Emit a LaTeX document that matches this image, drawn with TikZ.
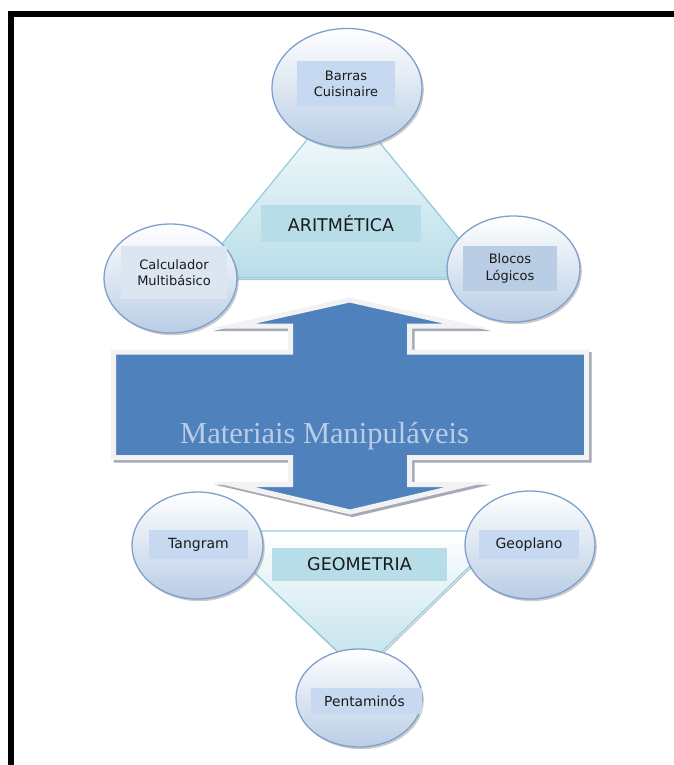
\documentclass[tikz,border=0pt]{standalone}
\usepackage{fontspec}
\newfontfamily\labelfont{DejaVu Sans}
\newfontfamily\titlefont{Liberation Serif}
\usetikzlibrary{shapes.geometric}
\definecolor{mainblue}{HTML}{4F81BD}
\definecolor{rimgray}{HTML}{F2F2F2}
\definecolor{shadowgray}{HTML}{A3AAB6}
\definecolor{bubbleedge}{HTML}{7FA0CC}
\definecolor{bubblebottom}{HTML}{B9CDE5}
\definecolor{tealedge}{HTML}{93CDDD}
\definecolor{tealfill}{HTML}{B7DDE8}
\definecolor{tagfill}{HTML}{C6D9F1}
\definecolor{tagpale}{HTML}{DCE6F2}
\definecolor{tagdeep}{HTML}{B9CDE5}
\definecolor{titleblue}{HTML}{B9CDE5}
\definecolor{inkdark}{HTML}{1A1A1A}
\begin{document}
\begin{tikzpicture}[x=1pt,y=-1pt,
  bubble/.style={ellipse, inner sep=0pt, draw=bubbleedge, line width=1.3pt,
    top color=white, bottom color=bubblebottom,
    preaction={fill=black!45, opacity=.45, transform canvas={xshift=1.8pt,yshift=-2.2pt}}},
  tag/.style={rectangle, inner sep=0pt, fill=tagfill, align=center,
    text=inkdark, font=\labelfont\fontsize{13}{16.5}\selectfont},
  topic/.style={rectangle, inner sep=0pt, fill=tealfill, text=inkdark,
    font=\labelfont\fontsize{17.5}{20}\selectfont},
  wedge/.style={draw=tealedge, line width=1.2pt, line join=miter,
    preaction={draw=shadowgray!70, line width=1.2pt, transform canvas={xshift=1.2pt,yshift=-1.5pt}}},
]
\useasboundingbox (0,0) rectangle (674,765);

% page frame (top and left edges)
\draw[line width=6pt, line join=miter] (11,770) -- (11,14) -- (680,14);

% triangle behind the arithmetic group
\coordinate (a1) at (342,97);
\coordinate (a2) at (194,278);
\coordinate (a3) at (491,278);
\draw[wedge, top color=white, bottom color=tealfill] (a1) -- (a2) -- (a3) -- cycle;

% inverted triangle behind the geometry group
\coordinate (g1) at (211,531);
\coordinate (g2) at (506,531);
\coordinate (g3) at (360,673);
\draw[wedge, top color=white, bottom color=tealfill!90] (g1) -- (g2) -- (g3) -- cycle;

% double-headed arrow with light rim and drop shadow
\def\arrowpath{(349.5,300) -- (466,326) -- (409.5,326) -- (409.5,352) -- (586.5,352)
  -- (586.5,457.5) -- (409.5,457.5) -- (409.5,484.5) -- (467,484.5) -- (350,512)
  -- (233,484.5) -- (290.5,484.5) -- (290.5,457.5) -- (113.5,457.5) -- (113.5,352)
  -- (290.5,352) -- (290.5,326) -- (233,326) -- cycle}
\begin{scope}[transform canvas={xshift=2.5pt,yshift=-2.5pt}]
  \draw[shadowgray, line width=5pt, line join=miter, miter limit=20] \arrowpath;
\end{scope}
\draw[fill=mainblue, draw=rimgray, line width=5pt, line join=miter, miter limit=20] \arrowpath;
\node[anchor=base west, inner sep=0pt, text=titleblue,
  font=\titlefont\fontsize{30.5}{34}\selectfont] (title) at (180,443) {Materiais Manipuláveis};

% arithmetic materials
\node[bubble, minimum width=150pt, minimum height=119pt] (barras) at (347,88) {};
\node[bubble, minimum width=133pt, minimum height=109pt] (calc) at (170.5,278.5) {};
\node[bubble, minimum width=133pt, minimum height=106pt] (blocos) at (513.5,269) {};
\node[tag, minimum width=98pt, minimum height=46pt] (barrasT) at (346,84) {Barras\\Cuisinaire};
\node[tag, fill=tagpale, minimum width=106pt, minimum height=53pt] (calcT) at (174,272.5) {Calculador\\Multibásico};
\node[tag, fill=tagdeep, minimum width=94pt, minimum height=45pt] (blocosT) at (510,268.5) {Blocos\\Lógicos};
\node[topic, minimum width=160pt, minimum height=37pt] (arit) at (341,223.5) {ARITMÉTICA};

% geometry materials
\node[bubble, minimum width=131pt, minimum height=107pt] (tangram) at (197.5,545.5) {};
\node[bubble, minimum width=130pt, minimum height=108pt] (geoplano) at (530,545) {};
\node[bubble, minimum width=126pt, minimum height=98pt] (penta) at (359,698) {};
\node[tag, font=\labelfont\fontsize{14}{16}\selectfont, minimum width=99pt, minimum height=29pt] (tangramT) at (198.5,544.5) {Tangram};
\node[tag, font=\labelfont\fontsize{14}{16}\selectfont, minimum width=100pt, minimum height=29pt] (geoplanoT) at (529,544.5) {Geoplano};
\node[tag, font=\labelfont\fontsize{13.8}{16}\selectfont, minimum width=111pt, minimum height=26pt] (pentaT) at (366.5,701) {\hspace*{-4pt}Pentaminós};
\node[topic, minimum width=175pt, minimum height=33pt] (geom) at (359.5,564.5) {GEOMETRIA};
\end{tikzpicture}
\end{document}
